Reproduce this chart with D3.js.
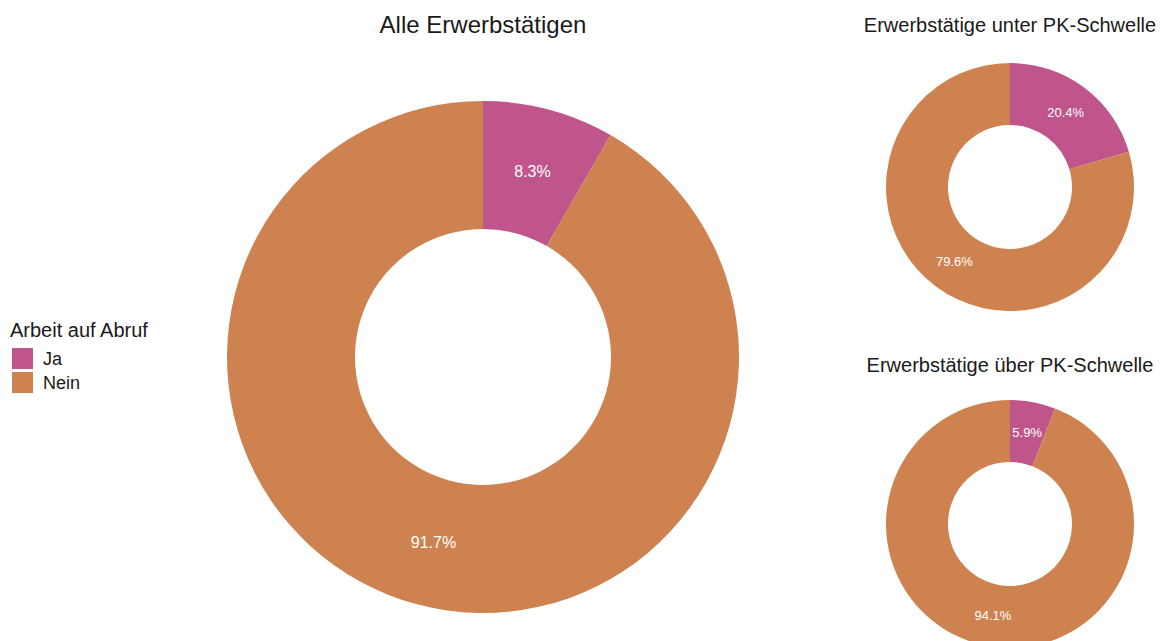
<!DOCTYPE html>
<html>
<head>
<meta charset="utf-8">
<script src="https://cdn.jsdelivr.net/npm/d3@7"></script>
<style>
  body { margin: 0; background: #fff; }
  text { font-family: "Liberation Sans", Arial, sans-serif; }
</style>
</head>
<body>
<div id="chart"></div>
<script>
// Data
var categories = ['Ja', 'Nein'];
var colors = ['#C0558C', '#CE8250'];
var chartTitles = ['Alle Erwerbstätigen', 'Erwerbstätige unter PK-Schwelle', 'Erwerbstätige über PK-Schwelle'];
var shareAll = [8.3, 91.7];
var shareUnder = [20.4, 79.6];
var shareOver = [5.9, 94.1];
var legendTitle = 'Arbeit auf Abruf';

var width = 1164;
var height = 641;

var svg = d3.select('#chart')
            .append('svg')
            .attr('width', width)
            .attr('height', height);

var color = d3.scaleOrdinal()
              .domain(categories)
              .range(colors);

var pie = d3.pie()
            .sort(null)
            .value(function (d) { return d.value; });

// draw one donut
function donut(values, title, cx, cy, r, titleY, titleSize, labelSize) {
  var data = categories.map(function (c, i) {
    return { key: c, value: values[i] };
  });
  var arc = d3.arc()
              .innerRadius(r / 2)
              .outerRadius(r);
  var g = svg.append('g')
             .attr('transform', 'translate(' + cx + ',' + cy + ')');
  var arcs = pie(data);
  g.selectAll('path')
   .data(arcs)
   .enter()
   .append('path')
   .attr('d', arc)
   .attr('fill', function (d) { return color(d.data.key); });
  g.selectAll('.label')
   .data(arcs)
   .enter()
   .append('text')
   .attr('class', 'label')
   .attr('transform', function (d) { return 'translate(' + arc.centroid(d) + ')'; })
   .attr('text-anchor', 'middle')
   .attr('dy', '0.35em')
   .attr('fill', '#fff')
   .attr('font-size', labelSize)
   .text(function (d) { return d.data.value.toFixed(1) + '%'; });

  svg.append('text')
     .attr('x', cx)
     .attr('y', titleY)
     .attr('text-anchor', 'middle')
     .attr('font-size', titleSize)
     .attr('fill', '#1a1a1a')
     .text(title);
}

donut(shareAll, chartTitles[0], 483, 357, 256, 33, 24, 16);
donut(shareUnder, chartTitles[1], 1010, 187, 124, 32, 20, 13);
donut(shareOver, chartTitles[2], 1010, 524, 124, 372, 20, 13);

// legend
var legend = svg.append('g')
                .attr('transform', 'translate(12,337)');
legend.append('text')
      .attr('x', -2)
      .attr('y', 0)
      .attr('font-size', 20)
      .attr('fill', '#1a1a1a')
      .text(legendTitle);
var items = legend.selectAll('.item')
                  .data(categories)
                  .enter()
                  .append('g')
                  .attr('class', 'item')
                  .attr('transform', function (d, i) { return 'translate(0,' + (11 + i * 24) + ')'; });
items.append('rect')
     .attr('width', 21)
     .attr('height', 21)
     .attr('fill', function (d) { return color(d); });
items.append('text')
     .attr('x', 31)
     .attr('y', 17)
     .attr('font-size', 18)
     .attr('fill', '#1a1a1a')
     .text(function (d) { return d; });
</script>
</body>
</html>
